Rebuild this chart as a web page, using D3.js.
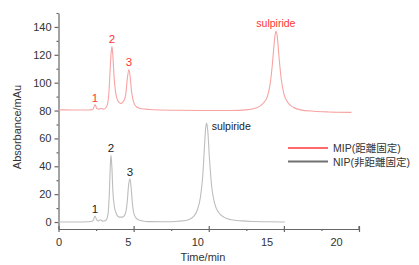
<!DOCTYPE html>
<html>
<head>
<meta charset="utf-8">
<script src="https://cdn.jsdelivr.net/npm/d3@7"></script>
<style>
  body { margin: 0; background: #fff; }
  text { font-family: "Liberation Sans", Arial, sans-serif; }
</style>
</head>
<body>
<div class="chart"></div>
<script>
var svgWidth = 419;
var svgHeight = 265;

// chromatogram traces: [time (min), absorbance (mAu)]
var nipTrace = [
  [0, 0], [1, 0], [2, 0.2], [2.3, 1], [2.43, 4.3], [2.55, 1.5], [2.65, 0.8], [2.8, 1.6],
  [2.95, 0.6], [3.1, 0.9], [3.2, 2], [3.3, 6], [3.38, 20], [3.44, 38], [3.49, 48], [3.55, 40],
  [3.62, 22], [3.72, 11], [3.85, 6], [4.05, 3.5], [4.25, 3.5], [4.45, 6], [4.57, 14],
  [4.67, 27], [4.76, 31], [4.84, 24], [4.93, 12], [5.05, 5], [5.25, 2], [5.6, 0.7], [6, 0.3],
  [7, 0.2], [8, 0.6], [8.6, 1.5], [9.0, 4], [9.25, 9], [9.45, 18], [9.6, 33], [9.72, 55],
  [9.8, 68], [9.86, 71], [9.93, 66], [10.05, 45], [10.2, 25], [10.4, 13], [10.65, 7],
  [11.0, 3.5], [11.5, 1.6], [12.2, 0.8], [13, 0.4], [14, 0.2], [15.07, 0]
];
var mipTrace = [
  [0, 80.5], [1, 80.4], [2, 80.4], [2.3, 81], [2.43, 84.3], [2.55, 81.5], [2.7, 81], [2.85, 81.5],
  [3.0, 81], [3.15, 82], [3.25, 84], [3.35, 92], [3.44, 110], [3.5, 121], [3.56, 126],
  [3.62, 119], [3.7, 104], [3.8, 93], [3.95, 87], [4.15, 85], [4.35, 87], [4.48, 92],
  [4.58, 103], [4.69, 109.5], [4.77, 104], [4.87, 93], [5.0, 86], [5.2, 82.5], [5.5, 81.3],
  [6, 80.8], [8, 80.2], [10, 80], [11.5, 80], [12.5, 80.5], [13.2, 82], [13.6, 85], [13.9, 90],
  [14.1, 100], [14.25, 115], [14.37, 130], [14.47, 137], [14.56, 133], [14.68, 118],
  [14.82, 103], [15.0, 92], [15.25, 86], [15.6, 82.5], [16.1, 80.5], [17, 79.5], [18, 79],
  [19.5, 78.7]
];

// peak labels: [text, time, height]
var nipPeaks = [["1", 2.43, 4.3], ["2", 3.49, 48], ["3", 4.76, 31]];
var mipPeaks = [["1", 2.43, 84.3], ["2", 3.56, 126], ["3", 4.69, 109.5]];
var nipSulpiride = ["sulpiride", 9.86, 71];
var mipSulpiride = ["sulpiride", 14.47, 137];

var xMajor = [0, 5, 10, 15, 20];
var xMinor = [2.5, 7.5, 12.5, 17.5];
var yMajor = [0, 20, 40, 60, 80, 100, 120, 140];
var yMinor = [10, 30, 50, 70, 90, 110, 130, 150];

var legendNames = ["MIP(距離固定)", "NIP(非距離固定)"];
var legendColors = ["#ff6868", "#707070"];

var svg = d3.select(".chart")
  .append("svg")
  .attr("width", svgWidth)
  .attr("height", svgHeight);

var x = d3.scaleLinear().domain([0, 20]).range([58.5, 359]);
// the tick numbers in the source sit a bit left of their ticks
var xLabel = d3.scaleLinear().domain([0, 20]).range([58.5, 336]);
var y = d3.scaleLinear().domain([-5, 150]).range([229, 13]);

var axisColor = "#666";

// x axis
var xAxisG = svg.append("g")
  .attr("transform", "translate(0,229)")
  .call(d3.axisBottom(x).tickValues(xMajor).tickSizeOuter(0).tickSizeInner(3).tickPadding(6));
xAxisG.selectAll(".tick line").attr("y1", -3);
xAxisG.selectAll(".tick text")
  .attr("x", d => xLabel(d) - x(d))
  .attr("font-size", 11).attr("fill", "#333")
  .style("font-family", "Liberation Sans, Arial, sans-serif");
svg.append("g")
  .attr("transform", "translate(0,229)")
  .call(d3.axisBottom(x).tickValues(xMinor).tickFormat("").tickSizeOuter(0).tickSizeInner(2))
  .select(".domain").remove();
svg.append("line")
  .attr("x1", x(20)).attr("x2", x(20))
  .attr("y1", 226).attr("y2", 229);

// y axis
var yAxisG = svg.append("g")
  .attr("transform", "translate(58.5,0)")
  .call(d3.axisLeft(y).tickValues(yMajor).tickSizeOuter(0).tickSizeInner(4).tickPadding(3));
yAxisG.selectAll(".tick text")
  .attr("font-size", 11).attr("fill", "#333")
  .style("font-family", "Liberation Sans, Arial, sans-serif");
svg.append("g")
  .attr("transform", "translate(58.5,0)")
  .call(d3.axisLeft(y).tickValues(yMinor).tickFormat("").tickSizeOuter(0).tickSizeInner(2))
  .select(".domain").remove();

svg.selectAll(".domain, .tick line, line")
  .attr("stroke", axisColor)
  .attr("stroke-width", 1.2);

// traces
var line = d3.line()
  .x(d => x(d[0]))
  .y(d => y(d[1]))
  .curve(d3.curveMonotoneX);

svg.append("path")
  .datum(mipTrace)
  .attr("d", line)
  .attr("fill", "none")
  .attr("stroke", "#f7a3a3")
  .attr("stroke-width", 1.1);

svg.append("path")
  .datum(nipTrace)
  .attr("d", line)
  .attr("fill", "none")
  .attr("stroke", "#bdbdbd")
  .attr("stroke-width", 1.1);

// peak labels
svg.selectAll(".mipPeak")
  .data(mipPeaks)
  .enter().append("text")
  .attr("x", d => x(d[1]))
  .attr("y", d => y(d[2]) - 3)
  .attr("text-anchor", "middle")
  .attr("font-size", 11.5)
  .attr("fill", "#ff3434")
  .text(d => d[0]);

svg.selectAll(".nipPeak")
  .data(nipPeaks)
  .enter().append("text")
  .attr("x", d => x(d[1]))
  .attr("y", d => y(d[2]) - 3)
  .attr("text-anchor", "middle")
  .attr("font-size", 11.5)
  .attr("fill", "#222")
  .text(d => d[0]);

svg.append("text")
  .attr("x", x(mipSulpiride[1]))
  .attr("y", y(mipSulpiride[2]) - 4)
  .attr("text-anchor", "middle")
  .attr("font-size", 10.5)
  .attr("fill", "#ff3434")
  .text(mipSulpiride[0]);

svg.append("text")
  .attr("x", x(nipSulpiride[1]) + 5)
  .attr("y", y(nipSulpiride[2]) + 7)
  .attr("font-size", 10.5)
  .attr("fill", "#222")
  .text(nipSulpiride[0]);

// legend
var legend = svg.selectAll(".legend")
  .data(legendNames)
  .enter().append("g")
  .attr("transform", (d, i) => `translate(288, ${148 + i * 13.5})`);

legend.append("line")
  .attr("x1", 0).attr("x2", 40)
  .attr("stroke", (d, i) => legendColors[i])
  .attr("stroke-width", 2);

legend.append("text")
  .attr("x", 45)
  .attr("y", 4)
  .attr("font-size", 10.5)
  .attr("fill", "#333")
  .style("font-family", "Liberation Sans, 'Noto Sans CJK JP', sans-serif")
  .text(d => d);

// axis titles
svg.append("text")
  .attr("transform", "rotate(-90)")
  .attr("x", -127)
  .attr("y", 21)
  .attr("text-anchor", "middle")
  .attr("font-size", 11)
  .attr("fill", "#333")
  .text("Absorbance/mAu");

svg.append("text")
  .attr("x", 203)
  .attr("y", 261)
  .attr("text-anchor", "middle")
  .attr("font-size", 11)
  .attr("fill", "#333")
  .text("Time/min");
</script>
</body>
</html>
